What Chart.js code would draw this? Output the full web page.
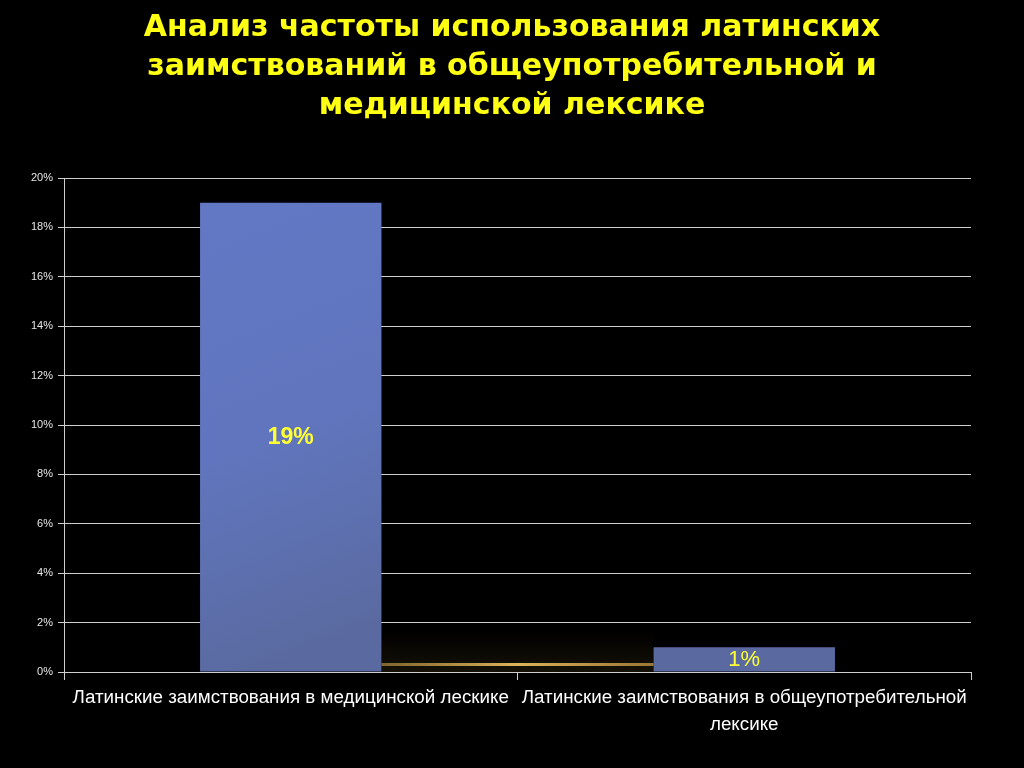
<!DOCTYPE html>
<html><head><meta charset="utf-8">
<script src="https://cdn.jsdelivr.net/npm/chart.js@4"></script>
<style>html,body{margin:0;padding:0;background:#000;}#wrap{width:1024px;height:768px;}</style>
</head><body><div id="wrap"><canvas id="c" width="1024" height="768"></canvas></div>
<script>
const titleLines = ["Анализ частоты использования латинских", "заимствований в общеупотребительной и", "медицинской лексике"];
const categories = [["Латинские заимствования в медицинской лескике"], ["Латинские заимствования в общеупотребительной", "лексике"]];
const values = [19, 1];
const valueLabels = ["19%", "1%"];
const labelBold = [true, false];
const yTicks = [0, 2, 4, 6, 8, 10, 12, 14, 16, 18, 20];

const valuePlugin = {
  id: 'valueLabels',
  afterDatasetsDraw(chart) {
    const ctx = chart.ctx;
    const meta = chart.getDatasetMeta(0);
    // decorative glow between bars
    const a = meta.data[0], b = meta.data[1];
    const yb = chart.chartArea.bottom;
    const x1 = a.x + a.width / 2, x2 = b.x - b.width / 2;
    const g = ctx.createLinearGradient(0, yb - 40, 0, yb);
    g.addColorStop(0, 'rgba(60,50,20,0)');
    g.addColorStop(1, 'rgba(60,50,20,0.35)');
    ctx.save();
    ctx.fillStyle = g;
    ctx.fillRect(x1, yb - 40, x2 - x1, 40);
    const lg = ctx.createLinearGradient(x1, 0, x2, 0);
    lg.addColorStop(0, 'rgba(140,110,50,0.9)');
    lg.addColorStop(0.5, 'rgba(220,180,90,1)');
    lg.addColorStop(1, 'rgba(170,130,60,0.9)');
    ctx.fillStyle = lg;
    ctx.fillRect(x1, yb - 9, x2 - x1, 3);
    ctx.restore();

    ctx.save();
    ctx.fillStyle = '#ffff33';
    ctx.textAlign = 'center';
    ctx.textBaseline = 'middle';
    meta.data.forEach((el, i) => {
      ctx.font = (labelBold[i] ? 'bold 23px' : '22px') + ' "Liberation Sans", Arial, sans-serif';
      const yc = (el.y + el.base) / 2;
      ctx.fillText(valueLabels[i], el.x, yc + 1);
    });
    ctx.restore();
  }
};

const ctx = document.getElementById('c').getContext('2d');
const barGrad = (c) => {
  const ch = c.chart; const area = ch.chartArea;
  if (!area) return '#6078c6';
  const gr = ch.ctx.createLinearGradient(area.left, area.top, area.left + 200, area.bottom);
  gr.addColorStop(0, '#6379c7');
  gr.addColorStop(0.6, '#6075bd');
  gr.addColorStop(1, '#5a6aa0');
  return gr;
};

new Chart(ctx, {
  type: 'bar',
  data: {
    labels: categories,
    datasets: [{
      data: values,
      backgroundColor: barGrad,
      borderWidth: 0,
      categoryPercentage: 0.4,
      barPercentage: 1.0
    }]
  },
  options: {
    responsive: false,
    animation: false,
    devicePixelRatio: 1,
    layout: { padding: 0 },
    plugins: {
      legend: { display: false },
      tooltip: { enabled: false },
      title: {
        display: true,
        text: titleLines,
        color: '#ffff14',
        font: { family: '"DejaVu Sans", sans-serif', size: 30, weight: 'bold', lineHeight: 1.3 },
        padding: { top: 9, bottom: 52 }
      }
    },
    scales: {
      y: {
        min: 0, max: 20,
        afterFit: (s) => { s.width = 64; },
        afterBuildTicks: (s) => { s.ticks = yTicks.map(v => ({ value: v })); },
        ticks: {
          color: '#e6e6e6',
          font: { family: '"Liberation Sans", Arial, sans-serif', size: 11 },
          padding: 5,
          callback: (v) => v + '%'
        },
        grid: { color: '#cfcfcf', lineWidth: 1, tickLength: 6, drawTicks: true },
        border: { color: '#cfcfcf', width: 1 }
      },
      yRight: {
        position: 'right',
        min: 0, max: 20,
        afterFit: (s) => { s.width = 53; },
        ticks: { display: false },
        grid: { display: false },
        border: { display: false }
      },
      x: {
        afterFit: (s) => { s.height = 96; },
        ticks: {
          color: '#ffffff',
          font: { family: '"Liberation Sans", Arial, sans-serif', size: 18.8, lineHeight: 1.45 },
          padding: 4,
          maxRotation: 0, minRotation: 0, autoSkip: false
        },
        grid: { offset: true, drawOnChartArea: false, drawTicks: true, tickLength: 8, color: '#cfcfcf' },
        border: { color: '#cfcfcf', width: 1 }
      }
    }
  },
  plugins: [valuePlugin]
});
</script></body></html>
